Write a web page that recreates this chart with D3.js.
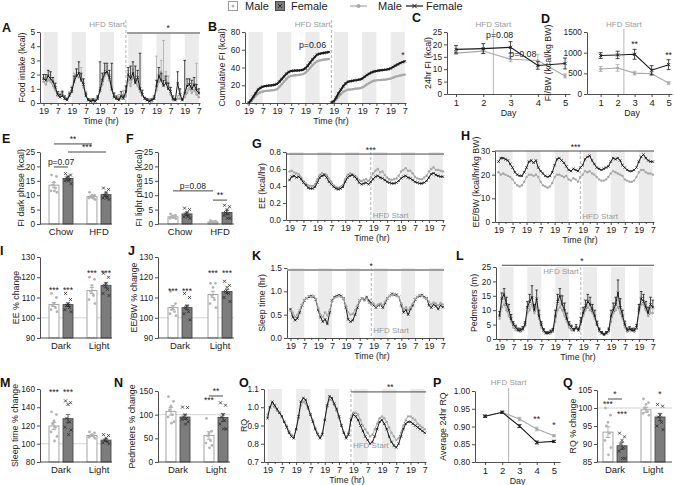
<!DOCTYPE html>
<html>
<head>
<meta charset="utf-8">
<script src="https://cdn.jsdelivr.net/npm/d3@7"></script>
<style>
  html, body { margin: 0; padding: 0; background: #fff; }
</style>
</head>
<body>
<svg id="fig" width="674" height="485"></svg>
<script>
// ---------- data ----------
// time grid (hours after first 19:00), 2 h steps
const hours = [0,2,4,6,8,10,12,14,16,18,20,22,24,26,28,30,32,34,36,38,40,42,44,46,48,50,52,54,56,58,60,62,64,66,68,70,72,74,76,78,80,82,84,86,88,90,92,94,96,98,100,102,104,106,108,110,112,114,116,118,120,122,124,126,128,130,132];
const darkStarts = [0, 24, 48, 72, 96, 120];
const tickHours = [0, 12, 24, 36, 48, 60, 72, 84, 96, 108, 120, 132];
const tickLabels = ["19","7","19","7","19","7","19","7","19","7","19","7"];
const minorHours = [6, 18, 30, 42, 54, 66, 78, 90, 102, 114, 126];
const hfdHour = 70;
const days = [1, 2, 3, 4, 5];
const hfdDay = 2.37;

// A food intake (kcal)
const fiFemale = [1.7,1.6,1.9,1.7,1.5,1.1,0.6, 0.4,0.5,0.3,0.2,0.5, 0.8,1.5,1.9,2.1,1.6,1.3,0.5, 0.2,0.1,0.2,0.1,0.3, 0.9,1.6,2.1,2.2,1.8,1.0,0.4, 0.3,0.2,0.5,0.3,0.8, 2.0,1.7,2.1,1.4,1.8,1.0,0.6, 0.3,0.2,0.1,0.2,0.3, 1.2,1.9,1.6,1.2,1.4,1.0,0.8, 0.3,0.2,1.4,0.6,0.2, 0.7,1.2,1.3,1.0,1.3,0.9,0.7];
const fiFemaleSem = [.3,.4,.4,.5,.3,.3,.2, .2,.3,.2,.1,.2, .3,.4,.5,.8,.5,.4,.2, .1,.1,.1,.1,.2, 2.0,.5,.7,.6,.5,1.8,.3, .2,.1,.3,.2,.4, .5,.9,.8,1.2,.5,2.5,.3, .1,.1,.1,.1,.2, .4,.6,.5,.4,.5,.4,.3, .2,.1,.8,.4,.1, 2.3,.5,.4,.6,.5,.4,.3];
const fiMale = [1.5,1.3,1.6,1.5,1.2,0.9,0.5, 0.6,0.7,0.3,0.3,0.6, 0.9,1.7,2.0,1.8,2.0,1.1,0.6, 0.2,0.2,0.1,0.2,0.4, 0.8,1.3,1.9,2.1,1.6,0.9,0.5, 0.3,0.4,0.3,0.6,0.5, 1.6,1.2,1.8,1.5,1.2,0.8,0.5, 0.3,0.2,0.2,0.1,0.3, 0.9,1.5,2.2,1.8,1.6,1.4,0.6, 0.2,0.2,0.3,0.3,0.2, 0.4,0.7,1.0,0.7,0.9,0.6,0.4];
const fiMaleSem = [.3,.3,.4,.3,.3,.2,.2, .2,.2,.1,.1,.2, .3,.4,.4,.3,.5,.3,.2, .1,.1,.1,.1,.1, .3,.4,.4,.5,.4,.3,.2, .1,.2,.1,.3,.3, .7,.4,.6,.4,.5,.3,.2, .1,.1,.1,.1,.1, 2.4,.5,.8,2.6,.6,.5,.3, .1,.1,.2,.2,.1, .2,.3,.4,.3,.4,2.2,.3];

// B cumulative FI (kcal), resets at HFD start (index 35)
const cumFemale = [0,3,7,11,15,17,18.5, 19,19.5,19.8,20,20.5, 21.5,24,27,30,33,35,36, 36.3,36.5,36.7,37,37.5, 39,42,45.5,49,52,54.5,55.5, 56,56.5,57,57.5, 0.5,2,6,11,15,19,22,24, 24.5,25,25.5,26,26.5, 27.5,29.5,31.5,33,34.5,35.5,36, 36.5,37,37.3,37.6,38, 39,40.5,42,43.5,45,46,47];
const cumMale = [0,2,5,8,10.5,12,13, 13.5,13.8,14,14.3,14.6, 15.5,18,21,24,27,29.5,30.5, 31,31.3,31.6,32,32.5, 34,36.5,39.5,42.5,45,47,48, 48.5,49,49.3,49.6, 0.3,1.5,4,7,10,12.5,14,15, 15.3,15.6,16,16.3,16.7, 17.5,19,21,22.5,24,25,25.5, 25.8,26,26.3,26.6,27, 27.5,28.5,29.5,30.3,31,31.5,32];

// C 24 h FI (kcal)
const dayFiMale = [16.5, 17.3, 14, 13.5, 7.3];
const dayFiMaleSem = [0.5, 0.8, 1, 2.5, 0.8];
const dayFiFemale = [18, 18.3, 18.8, 11.5, 12.3];
const dayFiFemaleSem = [1.5, 2, 2.3, 1.5, 2.2];

// D FI/BW (kcal/kg BW)
const fibwMale = [605, 630, 505, 490, 265];
const fibwMaleSem = [60, 80, 45, 40, 30];
const fibwFemale = [930, 945, 960, 575, 710];
const fibwFemaleSem = [70, 90, 120, 110, 120];

// E FI dark phase
const chowHfd = ["Chow", "HFD"];
const eMale = [13.5, 9.5], eMaleSem = [0.9, 0.4];
const eFemale = [15.8, 10.2], eFemaleSem = [0.6, 0.6];
const eMalePts = [[17,16.5,14.5,13.5,12.5,11.5,11,11.5], [11,10,10,9.5,9,9,8.5,9]];
const eFemalePts = [[17.5,17,16.5,16,15.5,15,14,15], [12.5,12,11,10,9.5,9,8.5,9]];

// F FI light phase
const fMale = [2.5, 0.7], fMaleSem = [0.4, 0.15];
const fFemale = [3.5, 4.0], fFemaleSem = [0.6, 0.8];
const fMalePts = [[3.5,3,2.8,2.5,2.2,2,1.8,2.2], [1.2,1,0.8,0.7,0.6,0.5,0.4,0.4]];
const fFemalePts = [[5.5,5,4,3.5,3,2.5,2,2.5], [6.5,6,5,4,3.5,3,2,2]];

// G EE (kcal/hr)
const eeFemale = [.47,.51,.52,.50,.51,.48,.44, .41,.38,.37,.37,.39, .44,.50,.52,.53,.50,.45,.42, .39,.37,.36,.37,.39, .45,.50,.52,.53,.51,.48,.44, .42,.43,.44,.42,.45, .48,.51,.52,.50,.49,.47,.45, .44,.43,.43,.44,.46, .49,.51,.52,.50,.49,.47,.45, .44,.43,.43,.44,.46, .50,.54,.55,.53,.52,.51,.51];
const eeMale = [.57,.58,.56,.55,.54,.50,.46, .43,.41,.40,.40,.42, .48,.53,.55,.54,.53,.49,.45, .41,.39,.38,.39,.41, .48,.53,.55,.54,.52,.50,.47, .46,.47,.48,.46,.50, .55,.58,.60,.56,.57,.53,.50, .48,.47,.48,.49,.52, .57,.59,.61,.58,.58,.55,.51, .49,.48,.48,.50,.52, .57,.60,.62,.59,.59,.58,.57];

// H EE/BW (kcal/hr/kg BW)
const eebwFemale = [25.5,27,27,26.5,26,24.5,23, 21,20,19.5,19.5,21, 23,25.5,26,25,26,23,21.5, 20.5,19.5,19,19.5,21, 24,26.5,27,26,25,23.5,22, 21.5,22.5,22,21.5,23, 24,26.5,27.5,28,26,24.5,23, 22.5,22,22.5,23,23.5, 25.5,27,26.5,27,26,24,23, 22,21.5,21.5,22,23, 25.5,27.5,28.5,27,26,25.5,25.5];
const eebwMale = [21,20,20.5,20,19.5,19,18, 16.5,15.5,15,15.5,17, 19,20,20,19.5,20,19,17, 15.5,15,14.5,15,16.5, 19,20,20,19.5,19,19.5,18, 17.5,18.5,18,17,19, 20,21.5,21,21.5,20.5,20,19, 18,17.5,17.5,18,19, 20.5,21.5,21,20.5,20,19.5,18, 17.5,17,17,17.5,19, 21,22,22,21,20.5,20.5,20];

// I EE % change
const darkLight = ["Dark", "Light"];
const iMale = [106.5, 113.5], iMaleSem = [1, 1.5];
const iFemale = [106.5, 116], iFemaleSem = [0.8, 1.2];
const iMalePts = [[112,110,107,106,105,104,103], [120,119,116,113,111,109,107]];
const iFemalePts = [[112,109,107,106,105,104,103,106], [122,120,117,116,114,112,111]];

// J EE/BW % change
const jMale = [105, 111.5], jMaleSem = [1, 1.6];
const jFemale = [105, 113], jFemaleSem = [1, 1];
const jMalePts = [[113,107,105,104,103,102,101], [117,117,115,111,109,107,105]];
const jFemalePts = [[112,110,106,105,103,102,99], [118,116,115,113,112,110,108]];

// K sleep time (hr)
const sleepFemale = [.62,.45,.38,.42,.55,.70,.80, .85,.88,.90,.88,.82, .60,.45,.35,.40,.30,.55,.80, .88,.90,.92,.90,.85, .65,.40,.35,.38,.50,.65,.80, .85,.82,.88,.80,.75, .70,.65,.70,.72,.65,.75,.85, .90,.95,.92,.93,.88, .70,.55,.60,.50,.62,.70,.82, .88,.90,.92,.88,.85, .70,.65,.72,.68,.62,.70,.66];
const sleepMale = [.58,.55,.45,.50,.60,.72,.82, .85,.90,.88,.90,.84, .65,.50,.45,.55,.48,.60,.78, .86,.88,.90,.88,.84, .70,.55,.50,.52,.60,.70,.80, .84,.80,.85,.75,.72, .74,.68,.72,.74,.70,.78,.86, .90,.92,.94,.90,.88, .74,.62,.66,.60,.66,.74,.84, .88,.92,.90,.86,.84, .78,.72,.76,.74,.70,.75,.72];

// L pedometers (m)
const pedFemale = [8,14,15.5,12,10,7,5, 4,3,3,3.5,5, 11,13,14.5,10,14,8,5, 3,2,2,2.5,3, 8,13,15,12,10,7,5, 4,3,4,3,6, 9,11,13,12,10,8,5, 3,2,1.5,2,3, 8,10,12,16,11,8,5, 3,3.5,3,3,4, 10,14,13,11,9,12,11];
const pedFemaleSem = [1.5,2,2,2.5,2,1.5,1, .8,.8,.7,.8,1, 2,2.5,4,2,3,2,1, .6,.5,.5,.6,.7, 2,2.5,2.5,3,2.5,2,1, .8,.7,1,.8,1.5, 2,2.5,2.5,2.5,2,2,1.2, .8,.6,.5,.6,.8, 2,2.5,2.5,4.5,3,2,1.2, .8,.8,.7,.8,1, 2,2.5,2.5,2,2,2.5,2.5];
const pedMale = [7,11,12,10,8,6,4, 3,3,2.5,3,4.5, 9,10,12,9,11,7,4, 2.5,2,2,2,2.5, 6,10,11,10,8,6,4, 3,3,3.5,3,5, 8,10,11,10,9,7,5, 2.5,2,1.5,2,2.5, 6,9,10,11,9,7,4, 2.5,3,3,2.5,3.5, 9,12,12,10,8,9,9];
const pedMaleSem = [1.5,2,2,2,1.5,1.5,1, .8,.7,.6,.7,1, 2,2,2.5,2,2,1.5,1, .5,.5,.4,.5,.6, 1.5,2,2.5,2,2,1.5,1, .7,.7,.8,.7,1.2, 2,2,2.5,2,2,1.5,1, .6,.5,.4,.5,.6, 1.5,2,2,2.5,2,1.5,1, .6,.7,.7,.6,.8, 2,2.5,2.5,2,2,2,2];

// M sleep % change
const mMale = [119.5, 109], mMaleSem = [4, 1];
const mFemale = [127.5, 104], mFemaleSem = [4.5, 1.5];
const mMalePts = [[135,132,125,122,118,113,108,103], [113,112,110,109,108,107,106]];
const mFemalePts = [[147,145,143,128,124,118,115,110], [110,109,106,104,102,101,100]];

// N pedometers % change
const nMale = [107, 56], nMaleSem = [8, 8];
const nFemale = [95, 94], nFemaleSem = [5, 8];
const nMalePts = [[138,128,118,110,100,95,85,82], [92,65,60,55,45,40,35,30]];
const nFemalePts = [[116,115,100,95,92,90,85,80], [125,120,100,95,88,80,70,70]];

// O RQ
const rqFemale = [.94,1.00,1.03,1.01,.99,.97,.95, .92,.89,.86,.84,.83, .88,.95,1.03,1.05,1.04,1.00,.96, .92,.88,.85,.83,.85, .93,1.01,1.06,1.05,1.02,.99,.95, .90,.86,.83,.85,.93, .96,.95,.93,.90,.87,.84,.82, .80,.81,.84,.88,.92, .93,.91,.88,.84,.81,.79,.78, .80,.84,.88,.91,.92, .92,.91,.90,.89,.88,.87,.86];
const rqMale = [.96,1.00,1.02,1.00,.98,.97,.95, .92,.90,.87,.85,.84, .88,.94,1.01,1.03,1.02,.99,.96, .93,.89,.86,.84,.86, .93,1.00,1.04,1.04,1.01,.98,.94, .90,.86,.84,.86,.94, .97,.97,.96,.93,.90,.88,.86, .84,.85,.88,.91,.94, .95,.94,.92,.89,.86,.84,.82, .83,.86,.90,.93,.95, .95,.94,.93,.91,.90,.89,.88];

// P average 24 h RQ
const dayRqMale = [0.929, 0.940, 0.921, 0.893, 0.874];
const dayRqMaleSem = [0.003, 0.003, 0.005, 0.005, 0.003];
const dayRqFemale = [0.929, 0.940, 0.901, 0.855, 0.858];
const dayRqFemaleSem = [0.003, 0.003, 0.004, 0.004, 0.003];

// Q RQ % change
const qMale = [93.3, 99.5], qMaleSem = [1.5, 0.7];
const qFemale = [89.5, 97.5], qFemaleSem = [1, 1];
const qMalePts = [[100,98,96,95,93,91,89,87], [102.5,101.5,101,100,99,98.5,98]];
const qFemalePts = [[93,92,91,90,89,88,86,86], [101,100.5,98,97.5,96,95,94]];

// ---------- drawing ----------
(function () {
  "use strict";

  const svg = d3.select("#fig");
  const FONT = "'Liberation Sans', Arial, sans-serif";
  const INK = "#222", AXC = "#3a3a3a", MALE = "#a8a8a8", FEM = "#1b1b1b";
  const BAND = "#ebebeb", HFDC = "#9d9d9d";
  const TICK_FS = 8, TITLE_FS = 8.8;
  const jitter = [-2.5, 2.5, 0, -1.5, 1.5, -3, 3, 0.5];

  function txt(g, x, y, s, opt) {
    opt = opt || {};
    return g.append("text").attr("x", x).attr("y", y)
      .attr("font-family", FONT).attr("font-size", opt.fs || TITLE_FS)
      .attr("fill", opt.fill || INK).attr("text-anchor", opt.anchor || "middle")
      .attr("font-weight", opt.bold ? "bold" : null).text(s);
  }

  function styleAxis(a) {
    a.attr("font-family", FONT).attr("font-size", TICK_FS);
    a.select(".domain").attr("stroke", AXC).attr("stroke-width", 0.9);
    a.selectAll(".tick line").attr("stroke", AXC).attr("stroke-width", 0.9);
    a.selectAll(".tick text").attr("fill", INK);
  }

  // y axis, y title and panel letter
  function frame(g, o, y) {
    const a = g.append("g").attr("transform", `translate(${o.l},0)`)
      .call(d3.axisLeft(y).tickValues(o.yTicks).tickFormat(d3.format(o.fmt || "d"))
        .tickSize(3).tickSizeOuter(0).tickPadding(2));
    styleAxis(a);
    a.selectAll(".tick text").attr("font-size", 8.3);
    g.append("text")
      .attr("transform", `translate(${o.ytx},${o.yty || (o.t + o.b) / 2}) rotate(-90)`)
      .attr("text-anchor", "middle").attr("dy", "0.35em")
      .attr("font-family", FONT).attr("font-size", TITLE_FS).attr("fill", INK).text(o.ytitle);
    txt(g, o.lx, o.ly, o.letter, { fs: 12.5, bold: true, anchor: "start", fill: "#111" });
  }

  function xMark(g, cx, cy, s, color, w) {
    g.append("path")
      .attr("d", `M${cx - s},${cy - s}L${cx + s},${cy + s}M${cx - s},${cy + s}L${cx + s},${cy - s}`)
      .attr("stroke", color).attr("stroke-width", w || 0.9).attr("fill", "none");
  }

  function errBar(g, cx, y0, y1, cap, color) {
    g.append("path").attr("d", `M${cx},${y0}V${y1}M${cx - cap},${y1}H${cx + cap}`)
      .attr("stroke", color).attr("stroke-width", 0.8).attr("fill", "none");
  }

  function bracket(g, x1, x2, y, label, color, w) {
    g.append("line").attr("x1", x1).attr("x2", x2).attr("y1", y).attr("y2", y)
      .attr("stroke", color || "#333").attr("stroke-width", w || 0.9);
    if (label) txt(g, (x1 + x2) / 2, y - 2, label, { fs: 8.5 });
  }

  // ----- time course panels -----
  function timePanel(o) {
    const g = svg.append("g");
    const x = d3.scaleLinear().domain([-3, 133]).range([o.l, o.r]);
    const y = d3.scaleLinear().domain(o.yDomain).range([o.b, o.t]);

    g.selectAll(null).data(darkStarts).join("rect")
      .attr("x", d => x(d)).attr("y", o.t)
      .attr("width", d => x(d + 12) - x(d)).attr("height", o.b - o.t)
      .attr("fill", BAND);

    const hx = x(hfdHour);
    g.append("line").attr("x1", hx).attr("x2", hx).attr("y1", o.hfdTop || o.t).attr("y2", o.b)
      .attr("stroke", HFDC).attr("stroke-width", 0.8).attr("stroke-dasharray", "3,2");

    o.series.forEach(s => {
      const parts = o.split
        ? [d3.range(0, o.split), d3.range(o.split, hours.length)]
        : [d3.range(hours.length)];
      parts.forEach(idx => {
        g.append("path").datum(idx)
          .attr("d", d3.line().x(i => x(hours[i])).y(i => y(s.vals[i])))
          .attr("fill", "none").attr("stroke", s.color).attr("stroke-width", s.w || 1);
      });
      if (s.err) s.vals.forEach((v, i) => errBar(g, x(hours[i]), y(v), y(v + s.err[i]), 1.3, s.color));
      s.vals.forEach((v, i) => {
        if (s.kind === "o") g.append("circle").attr("cx", x(hours[i])).attr("cy", y(v)).attr("r", 1.2).attr("fill", s.color);
        else xMark(g, x(hours[i]), y(v), 1.2, s.color, 0.8);
      });
    });

    const xa = g.append("g").attr("transform", `translate(0,${o.b})`)
      .call(d3.axisBottom(x).tickValues(tickHours).tickFormat((d, i) => tickLabels[i])
        .tickSize(3).tickSizeOuter(0).tickPadding(2));
    styleAxis(xa);
    xa.selectAll(".tick text").attr("font-size", 9);
    const xm = g.append("g").attr("transform", `translate(0,${o.b})`)
      .call(d3.axisBottom(x).tickValues(minorHours).tickFormat(() => "").tickSize(2).tickSizeOuter(0));
    styleAxis(xm);
    xm.select(".domain").remove();
    txt(g, o.xtx, o.b + 21, "Time (hr)");

    frame(g, o, y);
    txt(g, hx + o.hfdDx, o.hfdY, "HFD Start", { fs: 8, fill: "#9a9a9a", anchor: o.hfdAnchor });

    if (o.sig) {
      const s = o.sig;
      g.append("line").attr("x1", x(s.h1)).attr("x2", x(s.h2)).attr("y1", y(s.v)).attr("y2", y(s.v))
        .attr("stroke", s.color).attr("stroke-width", s.w);
      txt(g, x(s.lh), y(s.v) - 1.5, s.label, { fs: 8.5 });
    }
    (o.notes || []).forEach(n => txt(g, x(n.h), y(n.v), n.t, { fs: 8.8 }));
  }

  // ----- per-day panels -----
  function dayPanel(o) {
    const g = svg.append("g");
    const x = d3.scaleLinear().domain(o.xDomain).range([o.l, o.r]);
    const y = d3.scaleLinear().domain(o.yDomain).range([o.b, o.t]);
    const hx = x(hfdDay);
    g.append("line").attr("x1", hx).attr("x2", hx).attr("y1", o.hfdTop).attr("y2", o.b)
      .attr("stroke", "#b5b5b5").attr("stroke-width", 1);

    o.series.forEach(s => {
      g.append("path").datum(days)
        .attr("d", d3.line().x(d => x(d)).y((d, i) => y(s.vals[i])))
        .attr("fill", "none").attr("stroke", s.color).attr("stroke-width", 1.1);
      days.forEach((d, i) => {
        const cx = x(d), cy = y(s.vals[i]);
        errBar(g, cx, cy, y(s.vals[i] + s.err[i]), 2, s.color);
        errBar(g, cx, cy, y(s.vals[i] - s.err[i]), 2, s.color);
        if (s.kind === "o") g.append("circle").attr("cx", cx).attr("cy", cy).attr("r", 1.5).attr("fill", s.color);
        else xMark(g, cx, cy, 1.6, s.color, 0.9);
      });
    });

    const xa = g.append("g").attr("transform", `translate(0,${o.b})`)
      .call(d3.axisBottom(x).tickValues(days).tickFormat(d3.format("d"))
        .tickSize(3).tickSizeOuter(0).tickPadding(2));
    styleAxis(xa);
    xa.selectAll(".tick text").attr("font-size", 9.5);
    txt(g, o.xtx || (o.l + o.r) / 2, o.b + 22, "Day");

    frame(g, o, y);
    txt(g, hx, o.hfdY, "HFD Start", { fs: 8, fill: "#9a9a9a" });
    (o.notes || []).forEach(n => txt(g, x(n.d), y(n.v), n.t, { fs: 8.8 }));
  }

  // ----- bar + scatter panels -----
  function barPanel(o) {
    const g = svg.append("g");
    const span = o.span || 62;
    const gx = d3.scaleBand().domain(o.cats).range([o.l + o.off, o.l + o.off + span]).paddingInner(1 - 24 / (span - 24));
    const sx = d3.scaleBand().domain(["m", "f"]).range([0, gx.bandwidth()]).paddingInner(0.29);
    const y = d3.scaleLinear().domain(o.yDomain).range([o.b, o.t]);
    const cx = (c, s) => gx(c) + sx(s) + sx.bandwidth() / 2;

    if (o.ref != null) {
      g.append("line").attr("x1", o.l).attr("x2", o.r).attr("y1", y(o.ref)).attr("y2", y(o.ref))
        .attr("stroke", "#c8c8c8").attr("stroke-width", 0.8);
    }

    const groups = [
      { key: "m", mean: o.male, sem: o.maleSem, pts: o.malePts, fill: "#fff", stroke: "#9a9a9a", pcol: "#b3b3b3" },
      { key: "f", mean: o.female, sem: o.femaleSem, pts: o.femalePts, fill: "#7c7c7c", stroke: "#4a4a4a", pcol: "#2b2b2b" }
    ];
    groups.forEach(gr => o.cats.forEach((c, ci) => {
      const bx = gx(c) + sx(gr.key), bw = sx.bandwidth(), m = gr.mean[ci];
      g.append("rect").attr("x", bx).attr("y", y(m)).attr("width", bw).attr("height", o.b - y(m))
        .attr("fill", gr.fill).attr("stroke", gr.stroke).attr("stroke-width", 0.9);
      const c0 = bx + bw / 2;
      errBar(g, c0, y(m), y(m + gr.sem[ci]), 2.2, gr.stroke);
      errBar(g, c0, y(m), y(m - gr.sem[ci]), 2.2, gr.key === "m" ? gr.stroke : "#333");
      gr.pts[ci].forEach((v, k) => {
        const px = c0 + jitter[k % jitter.length];
        if (gr.key === "m") g.append("circle").attr("cx", px).attr("cy", y(v)).attr("r", 1.4).attr("fill", gr.pcol);
        else xMark(g, px, y(v), 1.5, gr.pcol, 0.8);
      });
    }));

    const xa = g.append("g").attr("transform", `translate(0,${o.b})`)
      .call(d3.axisBottom(gx).tickSize(0).tickPadding(4));
    styleAxis(xa);
    xa.select(".domain").attr("d", `M${o.l},0H${o.r}`);
    xa.selectAll(".tick text").attr("font-size", 9.5);

    frame(g, o, y);

    (o.brackets || []).forEach(b => bracket(g, cx(b.a[0], b.a[1]), cx(b.b[0], b.b[1]), y(b.v), b.t));
    (o.stars || []).forEach(s => txt(g, cx(s.at[0], s.at[1]), y(s.v), s.t, { fs: 8.5 }));
  }

  // ---------- legend ----------
  const lg = svg.append("g");
  lg.append("rect").attr("x", 228.5).attr("y", 1.5).attr("width", 9).attr("height", 9)
    .attr("fill", "#fff").attr("stroke", "#9a9a9a");
  lg.append("circle").attr("cx", 233).attr("cy", 6).attr("r", 1.5).attr("fill", "#b3b3b3");
  txt(lg, 245, 10, "Male", { fs: 11, anchor: "start" });
  lg.append("rect").attr("x", 275.5).attr("y", 1.5).attr("width", 9).attr("height", 9)
    .attr("fill", "#7c7c7c").attr("stroke", "#4a4a4a");
  xMark(lg, 280, 6, 2, "#222", 0.9);
  txt(lg, 291, 10, "Female", { fs: 11, anchor: "start" });
  lg.append("line").attr("x1", 350).attr("x2", 367).attr("y1", 6).attr("y2", 6).attr("stroke", MALE).attr("stroke-width", 1.2);
  lg.append("circle").attr("cx", 358.5).attr("cy", 6).attr("r", 2).attr("fill", MALE);
  txt(lg, 378, 10, "Male", { fs: 11, anchor: "start" });
  lg.append("line").attr("x1", 406).attr("x2", 423).attr("y1", 6).attr("y2", 6).attr("stroke", FEM).attr("stroke-width", 1.2);
  xMark(lg, 414.5, 6, 2.2, FEM, 1);
  txt(lg, 426, 10, "Female", { fs: 11, anchor: "start" });

  const male = (vals, err, w) => ({ vals, err, color: MALE, kind: "o", w });
  const female = (vals, err, w) => ({ vals, err, color: FEM, kind: "x", w });

  // ---------- row 1 ----------
  timePanel({
    letter: "A", lx: 2, ly: 32, l: 40, r: 200, t: 32, b: 103, xtx: 101,
    yDomain: [0, 5], yTicks: [0, 1, 2, 3, 4, 5], ytitle: "Food intake (kcal)", ytx: 22,
    series: [male(fiMale, fiMaleSem), female(fiFemale, fiFemaleSem)],
    hfdTop: 20, hfdDx: -1, hfdY: 27, hfdAnchor: "end",
    sig: { h1: 71, h2: 133, v: 4.93, color: "#9d9d9d", w: 2, lh: 106, label: "*" }
  });
  timePanel({
    letter: "B", lx: 208, ly: 31, l: 245, r: 406, t: 32, b: 103, xtx: 331,
    yDomain: [0, 80], yTicks: [0, 20, 40, 60, 80], ytitle: "Cumulative FI (kcal)", ytx: 222,
    series: [male(cumMale, null, 2), female(cumFemale, null, 2)], split: 35,
    hfdTop: 20, hfdDx: -1, hfdY: 27, hfdAnchor: "end",
    notes: [{ h: 54, v: 62, t: "p=0.06" }, { h: 130.5, v: 51, t: "*" }]
  });
  dayPanel({
    letter: "C", lx: 412, ly: 22, l: 447, r: 570, t: 32, b: 94,
    xDomain: [0.67, 5.18], yDomain: [0, 25], yTicks: [0, 5, 10, 15, 20, 25],
    ytitle: "24hr FI (kcal)", ytx: 428, hfdTop: 29, hfdY: 27,
    series: [male(dayFiMale, dayFiMaleSem), female(dayFiFemale, dayFiFemaleSem)],
    notes: [{ d: 2.6, v: 22.6, t: "p=0.08" }, { d: 3.45, v: 14.8, t: "p=0.08" }]
  });
  dayPanel({
    letter: "D", lx: 541, ly: 23, l: 587, r: 672, t: 32, b: 94, xtx: 632,
    xDomain: [0.2, 5.2], yDomain: [0, 1500], yTicks: [0, 500, 1000, 1500],
    ytitle: "FI/BW (kcal/kg BW)", ytx: 548, hfdTop: 29, hfdY: 27,
    series: [male(fibwMale, fibwMaleSem), female(fibwFemale, fibwFemaleSem)],
    notes: [{ d: 3, v: 1140, t: "**" }, { d: 5, v: 870, t: "**" }]
  });

  // ---------- row 2 ----------
  barPanel({
    letter: "E", lx: 2, ly: 143, l: 40, r: 112, off: 9, t: 152, b: 224,
    yDomain: [0, 25], yTicks: [0, 5, 10, 15, 20, 25], ytitle: "FI dark phase (kcal)", ytx: 21,
    cats: chowHfd, male: eMale, maleSem: eMaleSem, female: eFemale, femaleSem: eFemaleSem,
    malePts: eMalePts, femalePts: eFemalePts,
    brackets: [
      { a: ["Chow", "m"], b: ["HFD", "m"], v: 27.8, t: "**" },
      { a: ["Chow", "f"], b: ["HFD", "f"], v: 25, t: "***" },
      { a: ["Chow", "m"], b: ["Chow", "f"], v: 19.8, t: "p=0.07" }
    ]
  });
  barPanel({
    letter: "F", lx: 126, ly: 143, l: 158, r: 234, off: 10, span: 64, t: 152, b: 224,
    yDomain: [0, 25], yTicks: [0, 5, 10, 15, 20, 25], ytitle: "FI light phase (kcal)", ytx: 139,
    cats: chowHfd, male: fMale, maleSem: fMaleSem, female: fFemale, femaleSem: fFemaleSem,
    malePts: fMalePts, femalePts: fFemalePts,
    brackets: [
      { a: ["Chow", "m"], b: ["HFD", "m"], v: 11.5, t: "p=0.08" },
      { a: ["HFD", "m"], b: ["HFD", "f"], v: 8.3, t: "**" }
    ]
  });
  timePanel({
    letter: "G", lx: 252, ly: 148, l: 286, r: 444, t: 152, b: 220, xtx: 372,
    yDomain: [0, 0.8], yTicks: [0, 0.2, 0.4, 0.6, 0.8], fmt: ".1f", ytitle: "EE (kcal/hr)", ytx: 262,
    series: [male(eeMale), female(eeFemale)],
    hfdTop: 152, hfdDx: 2, hfdY: 218, hfdAnchor: "start",
    sig: { h1: -3, h2: 133, v: 0.776, color: "#333", w: 0.9, lh: hfdHour, label: "***" }
  });
  timePanel({
    letter: "H", lx: 461, ly: 140, l: 495, r: 654, t: 151, b: 222, xtx: 580,
    yDomain: [0, 30], yTicks: [0, 10, 20, 30], ytitle: "EE/BW (kcal/hr/kg BW)", ytx: 476, yty: 182,
    series: [male(eebwMale), female(eebwFemale)],
    hfdTop: 151, hfdDx: 2, hfdY: 219, hfdAnchor: "start",
    sig: { h1: -3, h2: 133, v: 30, color: "#333", w: 0.9, lh: 66, label: "***" }
  });

  // ---------- row 3 ----------
  barPanel({
    letter: "I", lx: 0, ly: 255, l: 40, r: 112, off: 9, t: 257, b: 338,
    yDomain: [90, 130], yTicks: [90, 100, 110, 120, 130], ytitle: "EE % change", ytx: 16, ref: 100,
    cats: darkLight, male: iMale, maleSem: iMaleSem, female: iFemale, femaleSem: iFemaleSem,
    malePts: iMalePts, femalePts: iFemalePts,
    stars: [
      { at: ["Dark", "m"], v: 112.2, t: "***" }, { at: ["Dark", "f"], v: 112.2, t: "***" },
      { at: ["Light", "m"], v: 120.6, t: "***" }, { at: ["Light", "f"], v: 120.6, t: "***" }
    ]
  });
  barPanel({
    letter: "J", lx: 128, ly: 255, l: 158, r: 234, off: 10, span: 64, t: 257, b: 338,
    yDomain: [90, 130], yTicks: [90, 100, 110, 120, 130], ytitle: "EE/BW % change", ytx: 134, ref: 100,
    cats: darkLight, male: jMale, maleSem: jMaleSem, female: jFemale, femaleSem: jFemaleSem,
    malePts: jMalePts, femalePts: jFemalePts,
    stars: [
      { at: ["Dark", "m"], v: 111.7, t: "***" }, { at: ["Dark", "f"], v: 111.7, t: "***" },
      { at: ["Light", "m"], v: 120.6, t: "***" }, { at: ["Light", "f"], v: 120.6, t: "***" }
    ]
  });
  timePanel({
    letter: "K", lx: 252, ly: 260, l: 287, r: 444, t: 268, b: 338, xtx: 372,
    yDomain: [0, 1.5], yTicks: [0, 0.5, 1.0, 1.5], fmt: ".1f", ytitle: "Sleep time (hr)", ytx: 262,
    series: [female(sleepFemale), male(sleepMale)],
    hfdTop: 268, hfdDx: 2, hfdY: 333, hfdAnchor: "start",
    sig: { h1: -3, h2: 133, v: 1.455, color: "#9d9d9d", w: 2, lh: hfdHour, label: "*" }
  });
  timePanel({
    letter: "L", lx: 456, ly: 260, l: 496, r: 654, t: 267, b: 339, xtx: 578,
    yDomain: [0, 25], yTicks: [0, 5, 10, 15, 20, 25], ytitle: "Pedmeters (m)", ytx: 474,
    series: [male(pedMale, pedMaleSem), female(pedFemale, pedFemaleSem)],
    hfdTop: 267, hfdDx: -2, hfdY: 274, hfdAnchor: "end",
    sig: { h1: 2, h2: 133, v: 25.6, color: "#333", w: 0.9, lh: 71, label: "*" }
  });

  // ---------- row 4 ----------
  barPanel({
    letter: "M", lx: 0, ly: 387, l: 40, r: 112, off: 9, t: 389, b: 462,
    yDomain: [80, 160], yTicks: [80, 100, 120, 140, 160], ytitle: "Sleep time % change", ytx: 15, ref: 100,
    cats: darkLight, male: mMale, maleSem: mMaleSem, female: mFemale, femaleSem: mFemaleSem,
    malePts: mMalePts, femalePts: mFemalePts,
    stars: [{ at: ["Dark", "m"], v: 153.4, t: "***" }, { at: ["Dark", "f"], v: 153.4, t: "***" }]
  });
  barPanel({
    letter: "N", lx: 114, ly: 387, l: 158, r: 230, off: 8, t: 391, b: 462,
    yDomain: [0, 150], yTicks: [0, 50, 100, 150], ytitle: "Pedmeters % change", ytx: 132, ref: 100,
    cats: darkLight, male: nMale, maleSem: nMaleSem, female: nFemale, femaleSem: nFemaleSem,
    malePts: nMalePts, femalePts: nFemalePts,
    brackets: [{ a: ["Light", "m"], b: ["Light", "f"], v: 139.5, t: "**" }],
    stars: [{ at: ["Light", "m"], v: 124.7, t: "***" }]
  });
  timePanel({
    letter: "O", lx: 239, ly: 387, l: 264, r: 426, t: 389, b: 462, xtx: 347,
    yDomain: [0.7, 1.1], yTicks: [0.7, 0.8, 0.9, 1.0, 1.1], fmt: ".1f", ytitle: "RQ", ytx: 244,
    series: [male(rqMale), female(rqFemale)],
    hfdTop: 389, hfdDx: 2, hfdY: 448, hfdAnchor: "start",
    sig: { h1: hfdHour, h2: 133, v: 1.084, color: "#333", w: 0.9, lh: 103, label: "**" }
  });
  dayPanel({
    letter: "P", lx: 433, ly: 387, l: 475, r: 560, t: 391, b: 462,
    xDomain: [0.42, 5.35], yDomain: [0.8, 1.0], yTicks: [0.8, 0.85, 0.9, 0.95, 1.0], fmt: ".2f",
    ytitle: "Average 24hr RQ", ytx: 443, hfdTop: 388, hfdY: 385,
    series: [male(dayRqMale, dayRqMaleSem), female(dayRqFemale, dayRqFemaleSem)],
    notes: [{ d: 4, v: 0.912, t: "**" }, { d: 5, v: 0.897, t: "*" }]
  });
  barPanel({
    letter: "Q", lx: 563, ly: 387, l: 597, r: 672, off: 6, t: 390, b: 462,
    yDomain: [85, 105], yTicks: [85, 90, 95, 100, 105], ytitle: "RQ % change", ytx: 573, ref: 100,
    cats: darkLight, male: qMale, maleSem: qMaleSem, female: qFemale, femaleSem: qFemaleSem,
    malePts: qMalePts, femalePts: qFemalePts,
    brackets: [{ a: ["Dark", "m"], b: ["Dark", "f"], v: 102.5, t: "*" }],
    stars: [
      { at: ["Dark", "m"], v: 100.3, t: "***" }, { at: ["Dark", "f"], v: 97.5, t: "***" },
      { at: ["Light", "f"], v: 103, t: "*" }
    ]
  });
})();
</script>
</body>
</html>
